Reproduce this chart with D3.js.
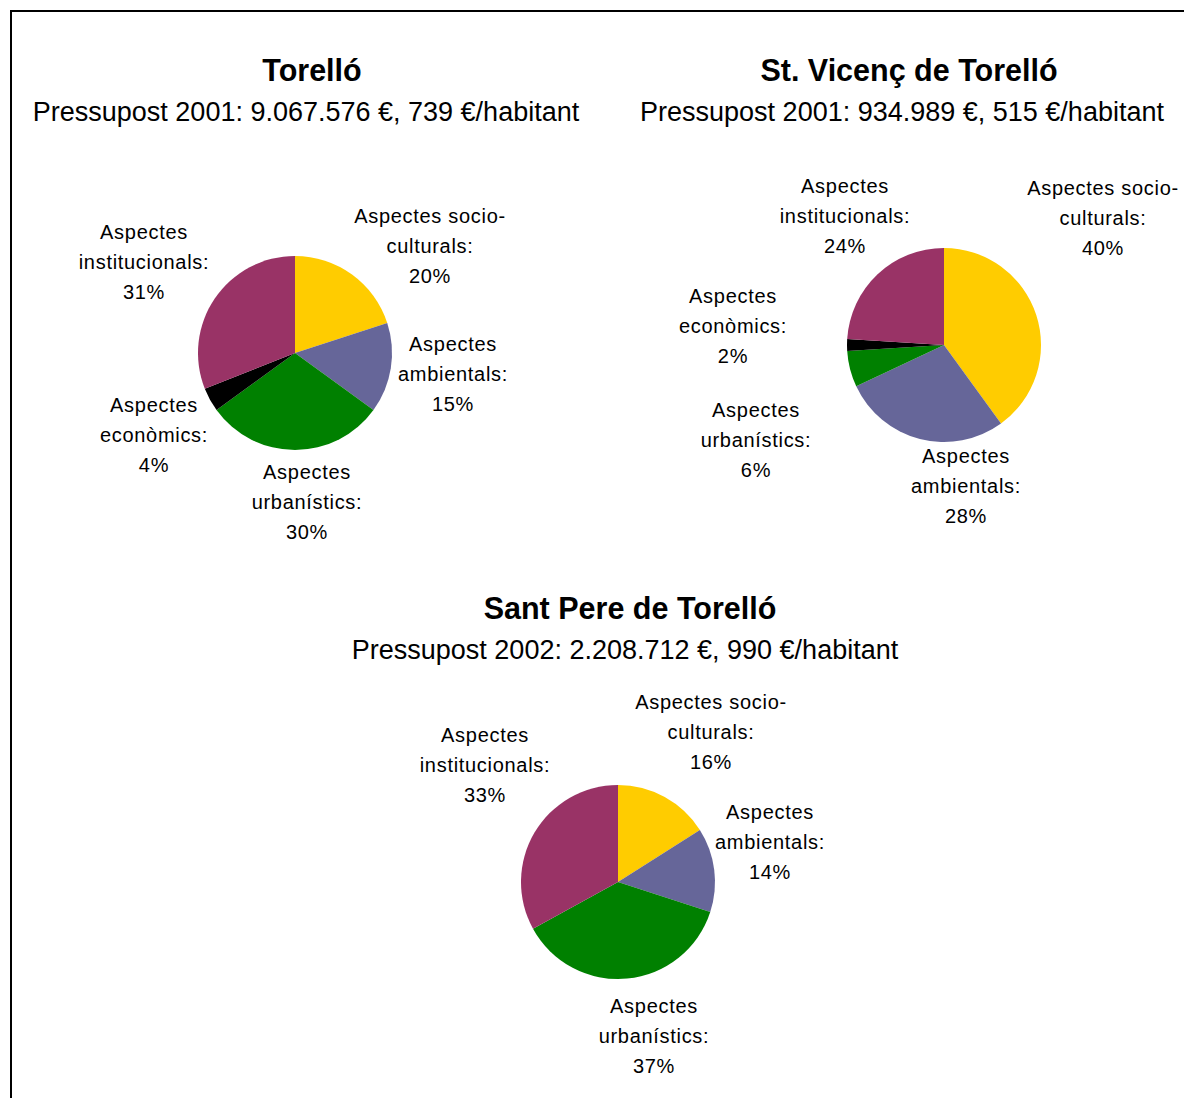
<!DOCTYPE html>
<html lang="ca">
<head>
<meta charset="UTF-8" />
<script src="https://d3js.org/d3.v7.min.js"></script>
<style>
  body { margin: 0; background: #fff; }
  text { font-family: "Liberation Sans", Arial, sans-serif; fill: #000; }
</style>
</head>
<body>
<svg></svg>
<script>
  // categories, in drawing order (clockwise from 12 o'clock)
  const categories = ["socio", "ambientals", "urbanistics", "economics", "institucionals"];
  const categoryLabels = [
    ["Aspectes socio-", "culturals:"],
    ["Aspectes", "ambientals:"],
    ["Aspectes", "urbanístics:"],
    ["Aspectes", "econòmics:"],
    ["Aspectes", "institucionals:"]
  ];
  const colors = ["#ffcc00", "#666699", "#008000", "#000000", "#993366"];

  const towns = ["Torelló", "St. Vicenç de Torelló", "Sant Pere de Torelló"];
  const budgets = [
    "Pressupost 2001: 9.067.576 €, 739 €/habitant",
    "Pressupost 2001: 934.989 €, 515 €/habitant",
    "Pressupost 2002: 2.208.712 €, 990 €/habitant"
  ];
  const torelloValues = [20, 15, 30, 4, 31];
  const vicencValues = [40, 28, 6, 2, 24];
  const pereValues = [16, 14, 37, 0, 33];

  // layout
  const W = 1184, H = 1098;
  const svg = d3.select("svg").attr("width", W).attr("height", H);

  svg.append("path")
    .attr("d", `M${W + 5},11 H11 V${H + 5}`)
    .attr("fill", "none").attr("stroke", "#000").attr("stroke-width", 2);

  const panels = [
    { values: torelloValues, cx: 295, cy: 353, tx: 312, sx: 306, ty: 70,
      labels: [[430, 216], [453, 344], [307, 472], [154, 405], [144, 232]] },
    { values: vicencValues, cx: 944, cy: 345, tx: 909, sx: 902, ty: 70,
      labels: [[1103, 188], [966, 456], [756, 410], [733, 296], [845, 186]] },
    { values: pereValues, cx: 618, cy: 882, tx: 630, sx: 625, ty: 608,
      labels: [[711, 702], [770, 812], [654, 1006], null, [485, 735]] }
  ];

  const pie = d3.pie().sort(null).value(d => d);
  const arc = d3.arc().innerRadius(0).outerRadius(97);

  panels.forEach((p, k) => {
    const g = svg.append("g");

    g.append("text")
      .attr("x", p.tx).attr("y", p.ty)
      .attr("text-anchor", "middle").attr("dominant-baseline", "central")
      .attr("font-size", 30.5).attr("font-weight", "bold")
      .text(towns[k]);
    g.append("text")
      .attr("x", p.sx).attr("y", p.ty + 42)
      .attr("text-anchor", "middle").attr("dominant-baseline", "central")
      .attr("font-size", 27)
      .text(budgets[k]);

    const arcs = pie(p.values);
    g.append("g")
      .attr("transform", `translate(${p.cx},${p.cy})`)
      .selectAll("path")
      .data(arcs.filter(d => d.data > 0))
      .join("path")
      .attr("d", arc)
      .attr("fill", d => colors[d.index]);

    arcs.forEach((d, i) => {
      if (!p.labels[i] || d.data === 0) return;
      const [lx, ly] = p.labels[i];
      const lines = categoryLabels[i].concat([d.data + "%"]);
      g.append("text")
        .attr("text-anchor", "middle")
        .attr("font-size", 20).attr("letter-spacing", 0.7)
        .selectAll("tspan")
        .data(lines)
        .join("tspan")
        .attr("x", lx)
        .attr("y", (t, j) => ly + j * 30)
        .attr("dominant-baseline", "central")
        .text(t => t);
    });
  });
</script>
</body>
</html>
